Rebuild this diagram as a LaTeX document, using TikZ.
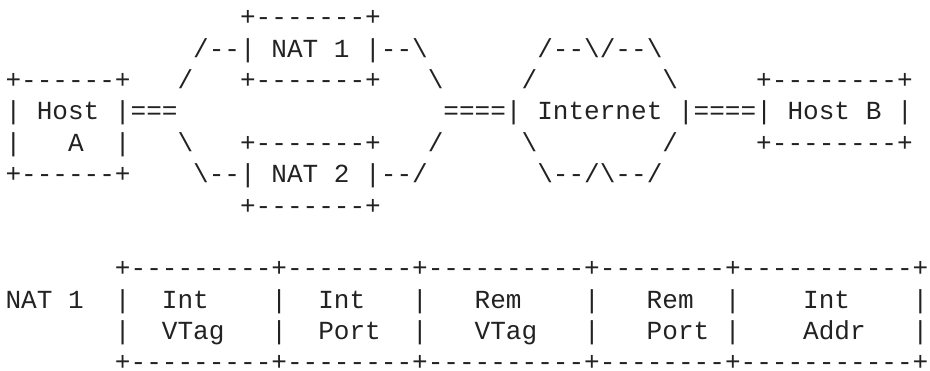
\documentclass[tikz,border=0pt]{standalone}
\usepackage{fontspec}
\setmonofont{Liberation Mono}
\definecolor{ink}{RGB}{34,34,34}
\tikzset{asc/.style={anchor=base west, inner sep=0pt, outer sep=0pt, text=ink, text depth=0pt,
  font=\ttfamily\fontsize{26.07pt}{26.07pt}\selectfont}}
\newcommand\asc[4]{\node[asc] (#1) at ({5.5+#2*15.64},{345.1-#3*31.36}) {#4};}
\begin{document}
\begin{tikzpicture}[x=1pt,y=1pt]
\useasboundingbox (0,0) rectangle (930,371);
% row 0
\asc{nAtop}{15}{0}{+-------+}
% row 1
\asc{natA}{12}{1}{/--| NAT 1 |--\textbackslash}
\asc{inettop}{34}{1}{/--\textbackslash/--\textbackslash}
% row 2
\asc{hAtop}{0}{2}{+------+}
\asc{lu}{11}{2}{/}
\asc{nAbot}{15}{2}{+-------+}
\asc{ru}{27}{2}{\textbackslash}
\asc{ilu}{33}{2}{/}
\asc{iru}{42}{2}{\textbackslash}
\asc{hBtop}{48}{2}{+--------+}
% row 3
\asc{hostA}{0}{3}{| Host |===}
\asc{inet}{28}{3}{====| Internet |====| Host B |}
% row 4
\asc{hAl}{0}{4}{|}
\asc{hAa}{4}{4}{A}
\asc{hAr}{7}{4}{|}
\asc{ld}{11}{4}{\textbackslash}
\asc{nBtop}{15}{4}{+-------+}
\asc{rd}{27}{4}{/}
\asc{ild}{33}{4}{\textbackslash}
\asc{ird}{42}{4}{/}
\asc{hBbot}{48}{4}{+--------+}
% row 5
\asc{hAbot}{0}{5}{+------+}
\asc{natB}{12}{5}{\textbackslash--| NAT 2 |--/}
\asc{inetbot}{34}{5}{\textbackslash--/\textbackslash--/}
% row 6
\asc{nBbot}{15}{6}{+-------+}
% table
\asc{ttop}{7}{8}{+---------+--------+----------+--------+-----------+}
\asc{tlab}{0}{9}{NAT 1}
\asc{va}{7}{9}{|}
\asc{ca}{10}{9}{Int}
\asc{vb}{17}{9}{|}
\asc{cb}{20}{9}{Int}
\asc{vc}{26}{9}{|}
\asc{cc}{30}{9}{Rem}
\asc{vd}{37}{9}{|}
\asc{cd}{41}{9}{Rem}
\asc{ve}{46}{9}{|}
\asc{ce}{51}{9}{Int}
\asc{vf}{58}{9}{|}
\asc{wa}{7}{10}{|}
\asc{da}{10}{10}{VTag}
\asc{wb}{17}{10}{|}
\asc{db}{20}{10}{Port}
\asc{wc}{26}{10}{|}
\asc{dc}{30}{10}{VTag}
\asc{wd}{37}{10}{|}
\asc{dd}{41}{10}{Port}
\asc{we}{46}{10}{|}
\asc{de}{51}{10}{Addr}
\asc{wf}{58}{10}{|}
\asc{tbot}{7}{11}{+---------+--------+----------+--------+-----------+}
\end{tikzpicture}
\end{document}
